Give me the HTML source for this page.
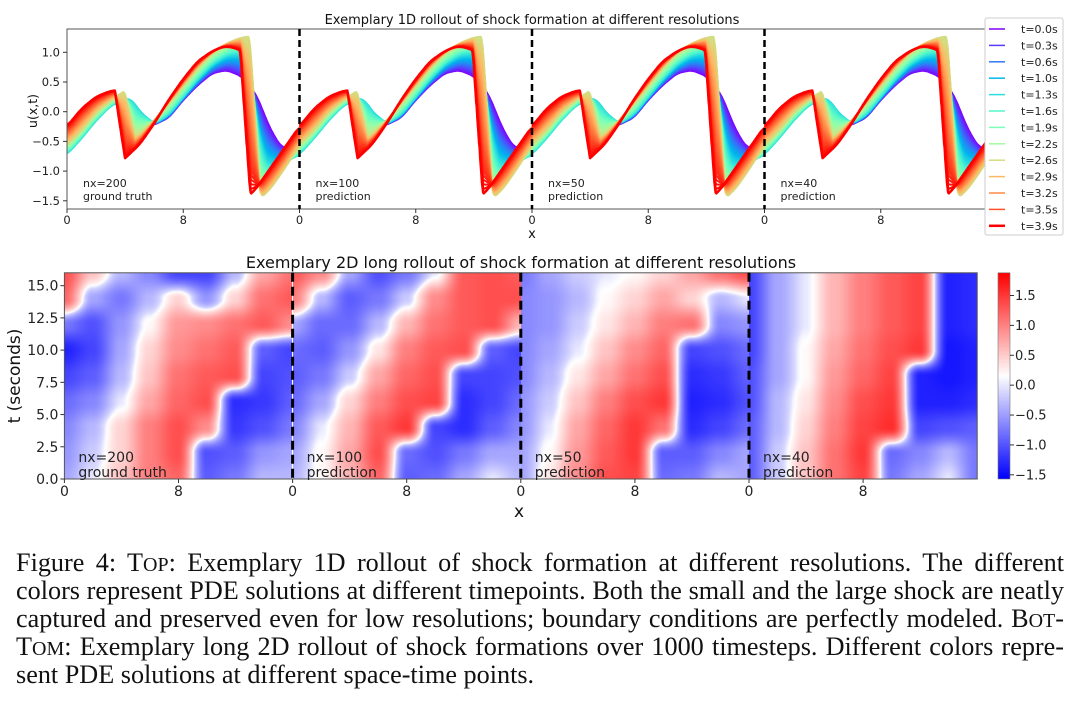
<!DOCTYPE html>
<html><head><meta charset="utf-8">
<style>
body{margin:0;background:#fff;width:1080px;height:703px;overflow:hidden;position:relative;font-family:"DejaVu Sans","Liberation Sans",sans-serif}
svg{position:absolute;left:0;top:0}
canvas{position:absolute}
.cap{position:absolute;left:16px;width:1048px;font-family:"Liberation Serif",serif;font-size:26.2px;line-height:28px;text-align:justify;text-align-last:justify;white-space:nowrap;color:#111}
.sc{font-size:20px}
</style></head><body>
<svg id="chart" width="1080" height="540"></svg>
<div class="cap" style="top:549px">Figure 4: T<span class="sc">OP</span>: Exemplary 1D rollout of shock formation at different resolutions. The different</div>
<div class="cap" style="top:577px">colors represent PDE solutions at different timepoints. Both the small and the large shock are neatly</div>
<div class="cap" style="top:605px">captured and preserved even for low resolutions; boundary conditions are perfectly modeled. B<span class="sc">OT</span>-</div>
<div class="cap" style="top:633px">T<span class="sc">OM</span>: Exemplary long 2D rollout of shock formations over 1000 timesteps. Different colors repre-</div>
<div class="cap" style="top:661px;text-align-last:left">sent PDE solutions at different space-time points.</div>
<script>
// ---- 1D data ----
const legendTimes=[0.0,0.3,0.6,1.0,1.3,1.6,1.9,2.2,2.6,2.9,3.2,3.5,3.9];
const panelLabels=["nx=200","nx=100","nx=50","nx=40"];
const panelSub=["ground truth","prediction","prediction","prediction"];
const keyTimes=[0,1.3,2.6,3.9];
const key0x=[0,1,2,3,4,5,5.8,7,8,9,10,11,12,13,14,14.8,15.5,16];
const key0u=[-0.5,-0.3,-0.05,0.12,0.18,0.0,-0.24,-0.1,0.2,0.45,0.65,0.7,0.6,0.3,-0.3,-0.62,-0.58,-0.5];
const key1x=[0,1,2,3,4,4.5,5,6,7,8,9,10,11,12,12.6,13,13.5,14,15,16];
const key1u=[-0.72,-0.45,-0.15,0.1,0.22,0.2,0.0,-0.2,-0.05,0.25,0.55,0.8,0.95,0.98,0.7,-0.1,-0.8,-0.9,-0.85,-0.72];
const key2x=[0,1,2,3,4,4.2,4.4,5,6,7,8,9,10,11,12,12.8,13,13.2,14,15,16];
const key2u=[-0.55,-0.3,0,0.2,0.35,0.38,-0.45,-0.4,-0.15,0.15,0.45,0.75,1.0,1.15,1.25,1.27,-1.0,-1.48,-1.3,-0.95,-0.55];
const key3x=[0,1,2,3,3.6,3.7,5,6,7,8,9,10,10.8,11.5,12.2,12.35,13,14,15,16];
const key3u=[-0.25,0.05,0.25,0.35,0.36,-0.85,-0.55,-0.2,0.2,0.55,0.85,1.02,1.1,1.08,1.0,-1.45,-1.3,-0.95,-0.6,-0.25];
const yTicks1=[1.0,0.5,0.0,-0.5,-1.0,-1.5];
// ---- 2D data (rows t=16..0 step 2, cols x=0..16 step 2) ----
const grid200=[
[1.3,0.4,-0.2,-0.5,-1.0,-1.0,-0.2,0.6,1.0],
[1.1,-0.3,-0.6,-0.2,0.3,-0.4,0.3,1.0,1.2],
[-0.6,-0.9,-0.4,0.1,0.7,0.8,1.0,1.2,0.8],
[-1.3,-1.0,-0.3,0.3,0.8,1.0,1.2,-0.8,-1.0],
[-1.0,-0.8,-0.2,0.4,1.0,1.2,1.3,-1.0,-0.9],
[-0.7,-0.5,0.0,0.6,1.1,1.3,-1.2,-1.1,-0.8],
[-0.5,-0.2,0.3,0.9,1.3,0.8,-1.1,-0.9,-0.6],
[-0.4,-0.1,0.3,0.9,1.3,-0.9,-0.8,-0.4,-0.3],
[-0.3,0.0,0.4,0.9,1.1,-0.8,-0.6,-0.2,-0.2]];
const grid100=[
[1.2,0.8,-0.3,-0.9,-0.6,0.0,1.2,1.3,1.2],
[0.9,-0.2,-0.8,-0.6,-0.1,0.8,1.2,1.3,1.3],
[-0.3,-0.7,-0.7,-0.2,0.5,1.0,1.2,1.3,0.5],
[-0.7,-0.8,-0.4,0.2,0.9,1.2,1.3,-0.8,-1.0],
[-0.8,-0.6,-0.1,0.6,1.1,1.3,-1.0,-1.0,-0.9],
[-0.7,-0.3,0.3,0.9,1.3,1.4,-1.2,-1.0,-0.7],
[-0.5,0.0,0.5,1.2,1.5,-1.0,-1.2,-0.8,-0.5],
[-0.3,0.1,0.6,1.3,-0.7,-0.9,-0.6,-0.3,-0.3],
[-0.2,0.1,0.5,1.1,-0.8,-0.7,-0.3,0.0,-0.2]];
const grid50=[
[-0.6,-0.3,-0.1,0.0,0.1,0.3,0.6,1.0,1.3],
[-0.5,-0.4,-0.2,0.1,0.3,0.6,0.3,-0.2,0.0],
[-0.5,-0.4,-0.1,0.2,0.5,0.9,1.0,-0.5,-0.4],
[-0.5,-0.3,0.0,0.4,0.8,1.1,-1.0,-0.9,-0.7],
[-0.5,-0.2,0.2,0.6,1.0,1.3,-1.2,-1.1,-0.8],
[-0.4,-0.1,0.4,0.9,1.3,1.5,-1.3,-1.2,-0.9],
[-0.4,0.0,0.6,1.1,1.5,1.0,-1.2,-1.0,-0.7],
[-0.3,0.1,0.7,1.2,1.5,-0.8,-0.8,-0.5,-0.3],
[-0.3,0.2,0.8,1.3,1.4,-0.7,-0.6,-0.2,-0.3]];
const grid40=[
[-1.0,-0.3,0.0,0.5,0.9,1.2,1.4,-1.3,-1.2],
[-1.0,-0.3,0.0,0.5,0.9,1.2,1.4,-1.3,-1.2],
[-1.0,-0.3,0.0,0.5,0.9,1.2,1.4,-1.3,-1.2],
[-1.0,-0.3,0.1,0.6,1.0,1.3,1.5,-1.4,-1.3],
[-0.9,-0.3,0.1,0.7,1.1,1.4,-1.3,-1.4,-1.3],
[-0.9,-0.2,0.2,0.8,1.3,1.5,-1.3,-1.3,-1.2],
[-0.8,-0.2,0.3,0.9,1.4,1.6,-1.0,-0.9,-0.8],
[-0.8,-0.1,0.4,1.0,1.5,-0.7,-0.5,-0.2,-0.6],
[-0.8,-0.1,0.4,1.0,1.4,-0.6,-0.3,0.0,-0.6]];
const yTicks2=[0.0,2.5,5.0,7.5,10.0,12.5,15.0];
const cbTicks=[1.5,1.0,0.5,0.0,-0.5,-1.0,-1.5];
const vMin=-1.57, vMax=1.88;

const NS="http://www.w3.org/2000/svg";
const svg=document.getElementById('chart');
function mk(tag,attrs,parent){const e=document.createElementNS(NS,tag);for(const k in attrs)e.setAttribute(k,attrs[k]);(parent||svg).appendChild(e);return e;}
function txt(s,attrs,parent){const e=mk('text',attrs,parent);e.textContent=s;return e;}
function rainbow(f){const r=Math.min(1,Math.abs(2*f-0.5)),g=Math.sin(Math.PI*f),b=Math.cos(Math.PI*f/2);return `rgb(${Math.round(r*255)},${Math.round(g*255)},${Math.round(Math.max(0,b)*255)})`;}
function interp(xk,uk,x){for(let i=0;i<xk.length-1;i++){if(x>=xk[i]&&x<=xk[i+1]&&xk[i+1]>xk[i]){return uk[i]+(uk[i+1]-uk[i])*(x-xk[i])/(xk[i+1]-xk[i]);}}return uk[uk.length-1];}
function smooth(xk,uk,x){let s=0,n=0;for(let d=-0.3;d<=0.3001;d+=0.1){let xx=Math.max(0,Math.min(16,x+d));s+=interp(xk,uk,xx);n++;}return s/n;}

// ---- TOP CHART ----
const T={x0:67,pw:232.5,top:29,bot:209};
const xS1=(p,x)=>T.x0+p*T.pw+x/16*T.pw;
const yS1=u=>111.7-u*59.4;
const gTop=mk('g',{});
const cp=mk('clipPath',{id:'c1'},gTop);mk('rect',{x:T.x0,y:T.top,width:4*T.pw,height:T.bot-T.top},cp);
const curvesG=mk('g',{'clip-path':'url(#c1)'},gTop);

const keysX=[key0x,key1x,key2x,key3x], keysU=[key0u,key1u,key2u,key3u];
const NS_STEPS=90;
for(let s=0;s<=NS_STEPS;s++){
  const t=s/NS_STEPS*3.9; let k=Math.min(2,Math.floor(t/1.3)); const w=(t-keyTimes[k])/(keyTimes[k+1]-keyTimes[k]);
  for(let p=0;p<4;p++){
    let d='';
    for(let x=0;x<=16.0001;x+=0.04){
      const u=(1-w)*smooth(keysX[k],keysU[k],x)+w*smooth(keysX[k+1],keysU[k+1],x);
      d+=(d?'L':'M')+xS1(p,x).toFixed(1)+','+yS1(u).toFixed(1);
    }
    const pth=mk('path',{d:d,fill:'none',stroke:rainbow(t/3.9),'stroke-width':s==NS_STEPS?2.6:2,'stroke-linejoin':'round'},curvesG);
    
    
  }
}
mk('rect',{x:T.x0,y:T.top,width:4*T.pw,height:T.bot-T.top,fill:'none',stroke:'#555','stroke-width':1},gTop);
for(let p=1;p<4;p++){const l=mk('line',{x1:xS1(p,0),x2:xS1(p,0),y1:T.top,y2:T.bot,stroke:'#000','stroke-width':2.5,'stroke-dasharray':'7,4'},gTop);}
yTicks1.forEach(v=>{mk('line',{x1:T.x0-4,x2:T.x0,y1:yS1(v),y2:yS1(v),stroke:'#333'},gTop);
  const e=txt((v<0?'\u2212':'')+Math.abs(v).toFixed(1),{x:T.x0-7,y:yS1(v)+4,'text-anchor':'end','font-size':11.5,fill:'#222'},gTop);});
for(let p=0;p<4;p++){[0,8].forEach(v=>{mk('line',{x1:xS1(p,v),x2:xS1(p,v),y1:T.bot,y2:T.bot+4,stroke:'#333'},gTop);
  const e=txt(String(v),{x:xS1(p,v),y:T.bot+15,'text-anchor':'middle','font-size':11.5,fill:'#222'},gTop);});
  const a=txt(panelLabels[p],{x:xS1(p,0)+16,y:187,'font-size':11,fill:'#222'},gTop);
  const b=txt(panelSub[p],{x:xS1(p,0)+16,y:200,'font-size':11,fill:'#222'},gTop);}
let e1=txt('Exemplary 1D rollout of shock formation at different resolutions',{x:532,y:24,'text-anchor':'middle','font-size':13,fill:'#111'},gTop);
e1=txt('u(x,t)',{x:0,y:0,'text-anchor':'middle','font-size':12.5,fill:'#111',transform:'translate(37,111) rotate(-90)'},gTop);
e1=txt('x',{x:532,y:238,'text-anchor':'middle','font-size':13,fill:'#111'},gTop);
// legend
const lg=mk('g',{},gTop);
mk('rect',{x:985,y:18,width:78,height:217,fill:'#fff',stroke:'#ccc','stroke-width':1,rx:2},lg);
legendTimes.forEach((t,i)=>{const y=29+i*16.4;
  const g=mk('g',{},lg);
  mk('line',{x1:989,x2:1005,y1:y,y2:y,stroke:rainbow(t/3.9),'stroke-width':i==12?2.5:1.5},g);
  txt('t='+t.toFixed(1)+'s',{x:1021,y:y+4,'font-size':11,fill:'#222'},g);});

// ---- BOTTOM HEATMAP ----
const B={x0:64.4,pw:228.2,top:272.8,bot:479};
const xS2=(p,x)=>B.x0+p*B.pw+x/16*B.pw;
const yS2=t=>B.bot-t/16*(B.bot-B.top);
function cmap(v){v=Math.sign(v)*Math.pow(Math.abs(v)/1.5,0.75)*1.5;let n=(v-vMin)/(vMax-vMin);n=Math.max(0,Math.min(1,n));let r,g,b;if(n<0.5){r=g=2*n;b=1}else{r=1;g=b=2-2*n}return [r*255,g*255,b*255];}
function cmapLin(v){let n=(v-vMin)/(vMax-vMin);n=Math.max(0,Math.min(1,n));let r,g,b;if(n<0.5){r=g=2*n;b=1}else{r=1;g=b=2-2*n}return [r*255,g*255,b*255];}
function sampleGrid(G,x,t){const cx=x/2,cr=(16-t)/2;const c0=Math.min(7,Math.floor(cx)),r0=Math.min(7,Math.floor(cr));let fx=cx-c0,fr=cr-r0;
  fx=fx*fx*(3-2*fx);fr=fr*fr*(3-2*fr);
  return (G[r0][c0]*(1-fx)+G[r0][c0+1]*fx)*(1-fr)+(G[r0+1][c0]*(1-fx)+G[r0+1][c0+1]*fx)*fr;}
const grids=[grid200,grid100,grid50,grid40];
grids.forEach((G,p)=>{
  const c=document.createElement('canvas');const w=Math.round(B.pw),h=Math.round(B.bot-B.top);
  c.width=w;c.height=h;c.style.left=xS2(p,0)+'px';c.style.top=B.top+'px';
  
  
  const ctx=c.getContext('2d');const img=ctx.createImageData(w,h);
  for(let j=0;j<h;j++)for(let i=0;i<w;i++){const v=sampleGrid(G,(i+0.5)/w*16,16-(j+0.5)/h*16);const col=cmap(v);const k=(j*w+i)*4;img.data[k]=col[0];img.data[k+1]=col[1];img.data[k+2]=col[2];img.data[k+3]=255;}
  ctx.putImageData(img,0,0);document.body.appendChild(c);
});
// colorbar
(function(){const c=document.createElement('canvas');const h=Math.round(B.bot-B.top);c.width=12;c.height=h;c.style.left='998px';c.style.top=B.top+'px';
  
  
  const ctx=c.getContext('2d');for(let j=0;j<h;j++){const v=vMax-(j+0.5)/h*(vMax-vMin);const col=cmapLin(v);ctx.fillStyle=`rgb(${col[0]|0},${col[1]|0},${col[2]|0})`;ctx.fillRect(0,j,12,1);}document.body.appendChild(c);})();
const svg2=document.createElementNS(NS,'svg');svg2.setAttribute('width',1080);svg2.setAttribute('height',540);svg2.style.zIndex=2;

document.body.appendChild(svg2);
const ov=svg2;
mk('rect',{x:B.x0,y:B.top,width:4*B.pw,height:B.bot-B.top,fill:'none',stroke:'#555'},ov);
for(let p=1;p<4;p++){const l=mk('line',{x1:xS2(p,0),x2:xS2(p,0),y1:B.top,y2:B.bot,stroke:'#000','stroke-width':3,'stroke-dasharray':'9,5'},ov);}
yTicks2.forEach(v=>{mk('line',{x1:B.x0-4,x2:B.x0,y1:yS2(v),y2:yS2(v),stroke:'#333'},ov);
  const e=txt(v.toFixed(1),{x:B.x0-6,y:yS2(v)+5,'text-anchor':'end','font-size':14,fill:'#222'},ov);});
for(let p=0;p<4;p++){[0,8].forEach(v=>{mk('line',{x1:xS2(p,v),x2:xS2(p,v),y1:B.bot,y2:B.bot+4,stroke:'#333'},ov);
  const e=txt(String(v),{x:xS2(p,v),y:B.bot+17,'text-anchor':'middle','font-size':14,fill:'#222'},ov);});
  const a=txt(panelLabels[p],{x:xS2(p,0)+14,y:462,'font-size':14,fill:'#222'},ov);
  const b=txt(panelSub[p],{x:xS2(p,0)+14,y:477,'font-size':14,fill:'#222'},ov);}
e1=txt('Exemplary 2D long rollout of shock formation at different resolutions',{x:521,y:268,'text-anchor':'middle','font-size':16,fill:'#111'},ov);
e1=txt('t (seconds)',{x:0,y:0,'text-anchor':'middle','font-size':17,fill:'#111',transform:'translate(20,376) rotate(-90)'},ov);
e1=txt('x',{x:519,y:517,'text-anchor':'middle','font-size':17,fill:'#111'},ov);
const cbY=v=>B.top+(vMax-v)/(vMax-vMin)*(B.bot-B.top);
mk('rect',{x:998,y:B.top,width:12,height:B.bot-B.top,fill:'none',stroke:'#777','stroke-width':0.6},ov);
cbTicks.forEach(v=>{mk('line',{x1:1010,x2:1014,y1:cbY(v),y2:cbY(v),stroke:'#333'},ov);
  const e=txt((v<0?'\u2212':'')+Math.abs(v).toFixed(1),{x:1015,y:cbY(v)+4.5,'font-size':13,fill:'#222'},ov);});
</script>
</body></html>
